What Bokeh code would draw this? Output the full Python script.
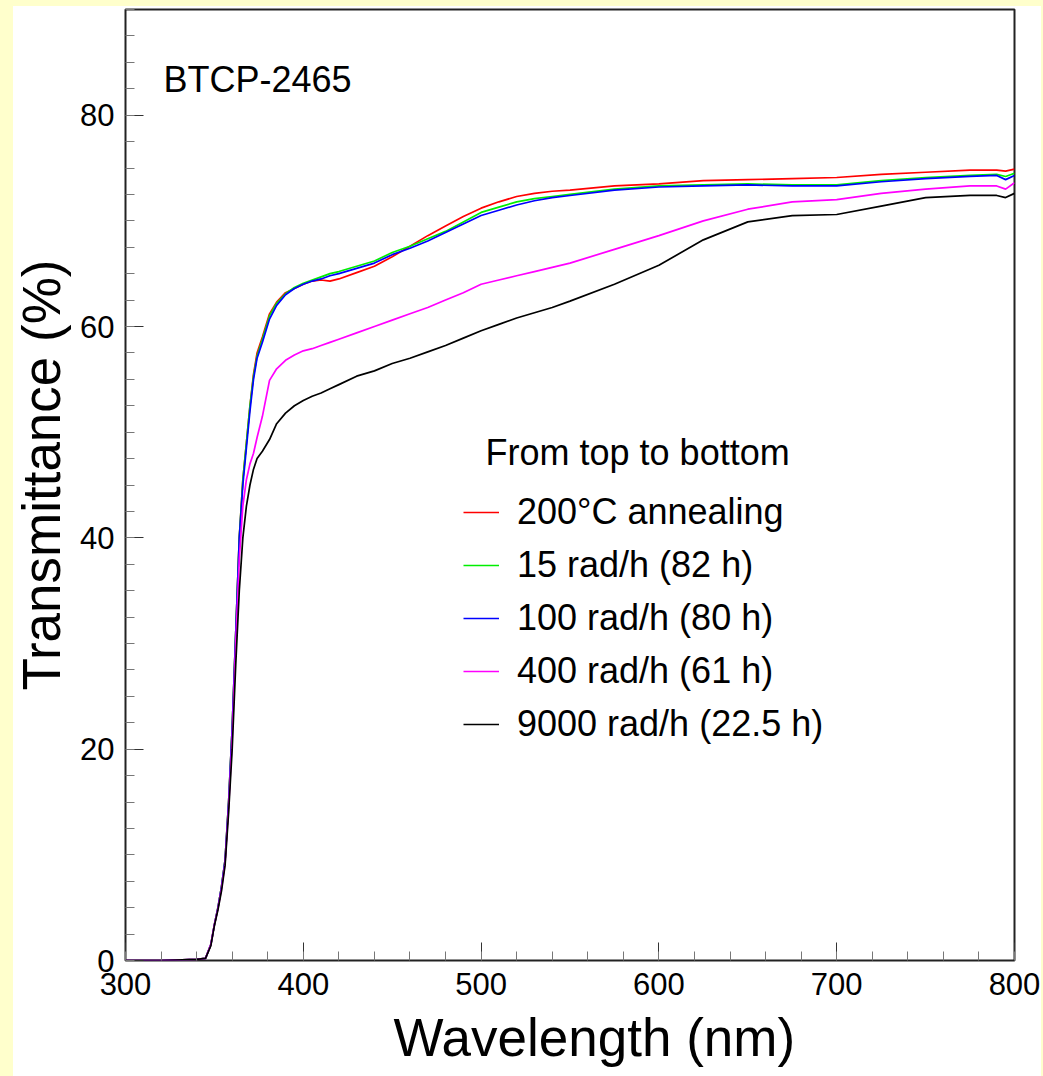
from bokeh.plotting import figure
from bokeh.models import Range1d, SingleIntervalTicker, Label, Legend, LegendItem, Title
from bokeh.layouts import column
from bokeh.embed import file_html
from bokeh.resources import INLINE

# ---------------- data ----------------
wavelength = [300, 320, 340, 345, 348, 350, 352, 354, 356, 358, 360, 362, 364, 366, 368, 370,
              372, 374, 377, 381, 385, 390, 395, 400, 405, 410, 415, 420, 430, 440, 450, 460,
              470, 480, 490, 500, 510, 520, 530, 540, 550, 575, 600, 625, 650, 675, 700, 725,
              750, 775, 790, 795, 800]

t_annealed = [0, 0, 0.1, 0.2, 1.5, 3.4, 5.0, 7.0, 9.5, 15, 22, 31, 40, 45.5, 49, 52.5,
              55.5, 57.5, 59, 61.2, 62.3, 63.2, 63.6, 64.0, 64.3, 64.4, 64.3, 64.5, 65.1, 65.7, 66.6, 67.6,
              68.6, 69.5, 70.4, 71.2, 71.8, 72.3, 72.6, 72.8, 72.9, 73.3, 73.5, 73.8, 73.9, 74.0, 74.1, 74.4,
              74.6, 74.8, 74.8, 74.7, 74.9]

t_15 = [0, 0, 0.1, 0.2, 1.5, 3.4, 5.0, 7.0, 9.5, 15, 22, 31, 40, 45.5, 49, 52.5,
        55.3, 57.2, 58.8, 61.0, 62.2, 63.1, 63.7, 64.1, 64.4, 64.7, 65.0, 65.2, 65.7, 66.2, 67.0, 67.6,
        68.3, 69.0, 69.9, 70.8, 71.3, 71.8, 72.1, 72.3, 72.5, 73.0, 73.3, 73.4, 73.5, 73.4, 73.4, 73.8,
        74.1, 74.3, 74.4, 74.2, 74.5]

t_100 = [0, 0, 0.1, 0.2, 1.5, 3.4, 5.0, 7.0, 9.5, 15, 22, 31, 40, 45, 48.5, 52,
         55, 57, 58.5, 60.7, 62.0, 63.0, 63.6, 64.0, 64.3, 64.5, 64.8, 65.0, 65.5, 66.0, 66.8, 67.4,
         68.1, 68.9, 69.7, 70.5, 71.0, 71.5, 71.9, 72.2, 72.4, 72.9, 73.2, 73.3, 73.4, 73.3, 73.3, 73.7,
         74.0, 74.2, 74.3, 73.9, 74.3]

t_400 = [0, 0, 0.1, 0.2, 1.5, 3.4, 4.9, 6.8, 9.2, 14.5, 21, 30, 38, 43, 45.5, 47,
         48, 49.5, 51.5, 54.9, 56.0, 56.8, 57.3, 57.7, 57.9, 58.2, 58.5, 58.8, 59.4, 60.0, 60.6, 61.2,
         61.8, 62.5, 63.2, 64.0, 64.4, 64.8, 65.2, 65.6, 66.0, 67.3, 68.6, 70.0, 71.1, 71.8, 72.0, 72.6,
         73.0, 73.3, 73.3, 73.0, 73.6]

t_9000 = [0, 0, 0.1, 0.2, 1.4, 3.3, 4.8, 6.6, 9.0, 14, 20, 28, 35, 40, 43, 45,
          46.5, 47.5, 48.2, 49.3, 50.8, 51.8, 52.5, 53.0, 53.4, 53.7, 54.1, 54.5, 55.3, 55.8, 56.5, 57.0,
          57.6, 58.2, 58.9, 59.6, 60.2, 60.8, 61.3, 61.8, 62.4, 64.0, 65.8, 68.2, 69.9, 70.5, 70.6, 71.4,
          72.2, 72.4, 72.4, 72.2, 72.6]

series_labels = ["200°C annealing", "15 rad/h (82 h)", "100 rad/h (80 h)",
                 "400 rad/h (61 h)", "9000 rad/h (22.5 h)"]
series_values = [t_annealed, t_15, t_100, t_400, t_9000]
series_colors = ["#ff0000", "#00ee00", "#0000ff", "#ff00ff", "#000000"]

x_ticks_interval = 100
y_ticks_interval = 20

FONT = "Liberation Sans"

# ---------------- figure ----------------
p = figure(width=1043, height=1076, output_backend="svg", toolbar_location=None,
           x_range=Range1d(300, 800), y_range=Range1d(0, 90),
           min_border_left=125, min_border_right=29, min_border_top=9, min_border_bottom=116,
           background_fill_color="white", border_fill_color=None)
p.grid.visible = False
p.outline_line_color = "#222222"
p.outline_line_width = 2

p.xaxis.ticker = SingleIntervalTicker(interval=x_ticks_interval, num_minor_ticks=5)
p.yaxis.ticker = SingleIntervalTicker(interval=y_ticks_interval, num_minor_ticks=8)
for ax in (p.xaxis[0], p.yaxis[0]):
    ax.axis_line_color = None
    ax.major_tick_in = 18
    ax.major_tick_out = 0
    ax.minor_tick_in = 9
    ax.minor_tick_out = 0
    ax.major_tick_line_color = "#333333"
    ax.minor_tick_line_color = "#777777"
    ax.major_label_text_font = FONT
    ax.major_label_text_font_size = "31px"
    ax.major_label_text_color = "black"
p.xaxis.major_label_standoff = 12
p.yaxis.major_label_standoff = 11

items = []
for lab, vals, col in zip(series_labels, series_values, series_colors):
    r = p.line(wavelength, vals, line_color=col, line_width=1.7)
    items.append(LegendItem(label=lab, renderers=[r]))

legend = Legend(items=items, location=(338, 215), orientation="vertical",
                label_text_font=FONT, label_text_font_size="36px", label_text_color="black",
                glyph_width=36, glyph_height=20, label_height=20, label_standoff=18,
                spacing=11, padding=0, margin=0,
                border_line_alpha=0, background_fill_alpha=0)
p.add_layout(legend, "center")

p.add_layout(Label(x=502.5, y=48.07, text="From top to bottom", text_font=FONT,
                   text_font_size="36px", text_color="black",
                   text_baseline="alphabetic", text_align="left"))
p.add_layout(Label(x=321.4, y=83.37, text="BTCP-2465", text_font=FONT,
                   text_font_size="36px", text_color="black",
                   text_baseline="alphabetic", text_align="left"))

p.add_layout(Title(text="Wavelength (nm)", align="left", offset=268, standoff=16,
                   text_font=FONT, text_font_size="53px", text_font_style="normal",
                   text_color="black"), "below")
p.add_layout(Title(text="Transmittance (%)", align="left", offset=270, standoff=14,
                   text_font=FONT, text_font_size="53px", text_font_style="normal",
                   text_color="black"), "left")

page_bg = ("linear-gradient(to bottom, #ffffcc 6px, rgba(255,255,255,0) 6px), "
           "linear-gradient(to right, #ffffcc 13px, #ffffff 13px, #ffffff 1041px, #ffffcc 1041px)")
layout = column(p, width=1043, height=1076,
                styles={"background-color": "#ffffcc", "background-image": page_bg})

open("out.html", "w").write(file_html(layout, INLINE))
